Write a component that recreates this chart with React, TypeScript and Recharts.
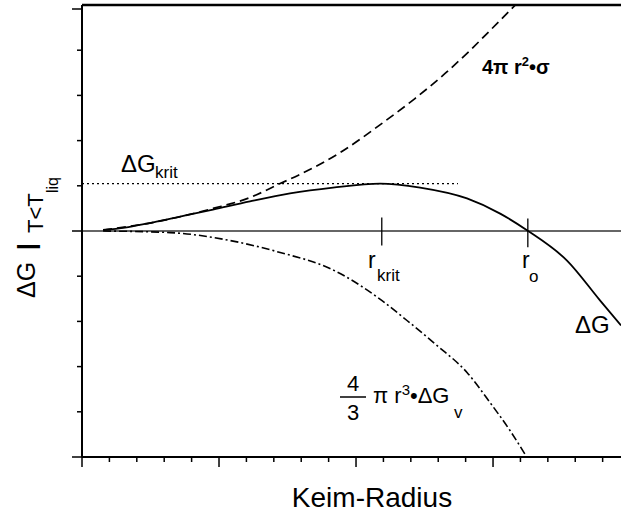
import { LineChart, Line, XAxis, YAxis, ReferenceLine } from "recharts";

// ΔG total (solid)
const dgX = [0.77, 1.57, 2.37, 3.58, 4.78, 6.13, 7.59, 9.16, 10.88, 12.34, 14.05, 15.26, 16.28, 17.7, 18.91, 19.67];
const dgY = [0.04, 0.15, 0.33, 0.64, 0.95, 1.31, 1.66, 1.92, 2.1, 1.92, 1.44, 0.77, 0, -1.31, -3.08, -4.18];

// surface term 4πr²σ (dashed)
const surfX = [0.77, 2.37, 4.78, 6.13, 7.23, 7.88, 9.42, 10.99, 12.15, 13.25, 14.16, 14.89, 15.8];
const surfY = [0.05, 0.33, 1.0, 1.48, 2.1, 2.46, 3.47, 4.8, 5.86, 6.97, 7.99, 8.87, 9.98];

// volume term 4/3πr³ΔGv (dash-dot)
const volX = [0.77, 3.21, 5.4, 7.23, 9.05, 10.95, 11.86, 12.96, 14.05, 14.89, 15.62, 16.24];
const volY = [0, -0.07, -0.42, -0.95, -1.66, -3.08, -3.96, -5.07, -6.26, -7.59, -8.83, -10.02];

const xTicks = Array.from({ length: 20 }, (_, i) => i);
const yTicks = Array.from({ length: 21 }, (_, i) => i - 10);

const dgKrit = 2.1;
const dgKritEnd = 13.72;
const rKrit = 10.94;
const rO = 16.27;

const toPts = (xs: number[], ys: number[]) => xs.map((x, i) => ({ x, y: ys[i] }));

const XTick = (p: any) => {
  const major = p.payload.value % 5 === 0;
  return <line x1={p.x} x2={p.x} y1={p.y} y2={p.y + (major ? 10 : 5)} stroke="#000" strokeWidth={1.5} />;
};
const YTick = (p: any) => {
  const major = p.payload.value % 5 === 0;
  return <line x1={p.x - (major ? 10 : 5)} x2={p.x} y1={p.y} y2={p.y} stroke="#000" strokeWidth={1.5} />;
};

const font = "'Liberation Sans', Arial, sans-serif";

export default function App() {
  return (
    <div style={{ position: "absolute", left: 0, top: 0, width: 621, height: 512, background: "#fff" }}>
      <LineChart width={621} height={512} margin={{ top: 5, right: 0, bottom: 25, left: 42 }}>
        <XAxis type="number" dataKey="x" domain={[0, 19.67]} ticks={xTicks} allowDataOverflow
          height={30} tickSize={0} tickMargin={0} tick={<XTick />}
          axisLine={{ stroke: "#000", strokeWidth: 2 }} />
        <YAxis type="number" dataKey="y" domain={[-10, 10]} ticks={yTicks} allowDataOverflow
          width={40} tickSize={0} tickMargin={0} tick={<YTick />}
          axisLine={{ stroke: "#000", strokeWidth: 2 }} />
        <ReferenceLine y={10} stroke="#000" strokeWidth={2.5} />
        <ReferenceLine y={0} stroke="#333" strokeWidth={1.5} />
        <ReferenceLine segment={[{ x: 0, y: dgKrit }, { x: dgKritEnd, y: dgKrit }]} stroke="#000" strokeWidth={1.3} strokeDasharray="2 3" />
        <ReferenceLine segment={[{ x: rKrit, y: 0.6 }, { x: rKrit, y: -0.64 }]} stroke="#000" strokeWidth={1.3} />
        <ReferenceLine segment={[{ x: rO, y: 0.55 }, { x: rO, y: -0.72 }]} stroke="#000" strokeWidth={1.3} />
        <Line data={toPts(surfX, surfY)} dataKey="y" type="monotone" stroke="#000" strokeWidth={1.7}
          strokeDasharray="9 5" dot={false} isAnimationActive={false} />
        <Line data={toPts(volX, volY)} dataKey="y" type="monotone" stroke="#000" strokeWidth={1.6}
          strokeDasharray="8 3 2 3" dot={false} isAnimationActive={false} />
        <Line data={toPts(dgX, dgY)} dataKey="y" type="monotone" stroke="#000" strokeWidth={1.8}
          dot={false} isAnimationActive={false} />
      </LineChart>
      <svg width={621} height={512} style={{ position: "absolute", left: 0, top: 0, pointerEvents: "none" }}
        fontFamily={font} fill="#000">
        <text x={121} y={172} fontSize={24}>ΔG</text>
        <text x={155} y={178} fontSize={17}>krit</text>

        <text x={482} y={74} fontSize={20} fontWeight="bold">
          4π r<tspan fontSize={13} dy={-8}>2</tspan><tspan dy={8}>•σ</tspan>
        </text>

        <text x={368} y={268} fontSize={23}>r</text>
        <text x={377} y={281} fontSize={17}>krit</text>
        <text x={522} y={268} fontSize={23}>r</text>
        <text x={529} y={282} fontSize={17}>o</text>

        <text x={575} y={333} fontSize={24}>ΔG</text>

        <text x={353} y={391} fontSize={22} textAnchor="middle">4</text>
        <line x1={340} x2={366} y1={397} y2={397} stroke="#000" strokeWidth={1.5} />
        <text x={353} y={420} fontSize={22} textAnchor="middle">3</text>
        <text x={373} y={403} fontSize={22}>
          π r<tspan fontSize={15} dy={-8}>3</tspan><tspan dy={8}>•ΔG</tspan>
        </text>
        <text x={454} y={418} fontSize={17}>v</text>

        <g transform="rotate(-90)">
          <text x={-298} y={35} fontSize={25}>ΔG</text>
          <text x={-250} y={35} fontSize={24} fontWeight="bold">|</text>
          <text x={-233} y={43} fontSize={22}>T&lt;T</text>
          <text x={-193} y={58} fontSize={16}>liq</text>
        </g>

        <text x={372} y={507} fontSize={28} textAnchor="middle">Keim-Radius</text>
      </svg>
    </div>
  );
}
